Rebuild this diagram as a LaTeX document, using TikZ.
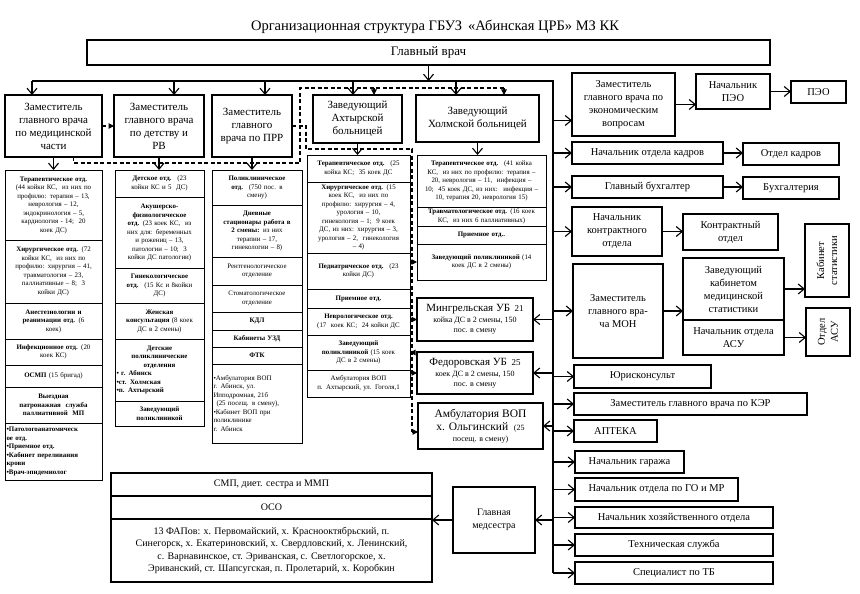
\documentclass[tikz,border=0pt]{standalone}
\usepackage{fontspec}
\setmainfont{Liberation Serif}
\usetikzlibrary{arrows.meta,positioning}
\tikzset{
  ttl/.style={font=\fontsize{14.5}{17}\selectfont, inner sep=0pt},
  hbox/.style={rectangle, draw, line width=1.1pt, outer sep=0pt, align=center,
               inner sep=1.5pt, font=\fontsize{11}{13}\selectfont},
  rbox/.style={hbox, font=\fontsize{10.5}{13}\selectfont},
  nbox/.style={hbox, font=\fontsize{10}{12.5}\selectfont},
  cell/.style={rectangle, draw, line width=1pt, outer sep=0pt, align=center,
               inner xsep=1.5pt, inner ysep=1pt, font=\fontsize{6.9}{8.5}\selectfont},
  c1/.style={cell, text width=94pt},
  c2/.style={cell, text width=86pt},
  c3/.style={cell, text width=87pt},
  ca/.style={cell, text width=100pt},
  ch/.style={cell, text width=126pt},
  bus/.style={line width=1.1pt},
  arr/.style={-{Straight Barb[length=6pt,width=10pt]}, line width=1.1pt},
  dashln/.style={line width=1.1pt, dash pattern=on 4pt off 2.5pt},
  dasharr/.style={dashln, -{Triangle[length=5.5pt,width=5.5pt]}},
}
\newcommand{\lft}[1]{#1\hspace{0pt plus 1filll}\mbox{}}

\begin{document}
\begin{tikzpicture}[x=1pt, y=-1pt]
  \useasboundingbox (0,0) rectangle (860,594);
  \node[ttl] (title) at (435,27) {Организационная структура ГБУЗ \,«Абинская ЦРБ» МЗ КК};
  \node[hbox, minimum width=683, minimum height=25, anchor=north west, font=\fontsize{13}{15}\selectfont] (glav) at (87,40) {Главный врач};

  % deputies and hospital heads
  \node[hbox, minimum width=97, minimum height=62, anchor=north west] (medz) at (5,95) {Заместитель\\главного врача\\по медицинской\\части};
  \node[hbox, minimum width=90, minimum height=62, anchor=north west] (detz) at (114,95) {Заместитель\\главного врача\\по детству и\\РВ};
  \node[hbox, minimum width=80, minimum height=62, anchor=north west] (prrz) at (212,95) {Заместитель\\главного\\врача по ПРР};
  \node[hbox, minimum width=89, minimum height=48, anchor=north west] (akhz) at (313,95) {Заведующий\\Ахтырской\\больницей};
  \node[hbox, minimum width=123, minimum height=47, anchor=north west] (holz) at (416,95) {Заведующий\\Холмской больницей};

  % medical part
  \node[c1, minimum height=70, anchor=north west] (m1) at (5,170) {\textbf{Терапевтическое отд.}\\(44 койки КС, \ из них по\\профилю: терапия – 13,\\неврология – 12,\\эндокринология – 5,\\кардиология - 14; \ 20\\коек ДС)};
  \node[c1, minimum height=63, below=0pt of m1] (m2) {\textbf{Хирургическое отд.} (72\\койки КС, \ из них по\\профилю: хирургия – 41,\\травматология – 23,\\паллиативные – 8; \ 3\\койки ДС)};
  \node[c1, minimum height=36, below=0pt of m2] (m3) {\textbf{Анестезиологии и\\реанимации отд.} (6\\коек)};
  \node[c1, minimum height=26, below=0pt of m3] (m4) {\textbf{Инфекционное отд.} (20\\коек КС)};
  \node[c1, minimum height=22, below=0pt of m4] (m5) {\textbf{ОСМП} (15 бригад)};
  \node[c1, minimum height=36, below=0pt of m5] (m6) {\textbf{Выездная\\патронажная \ служба\\паллиативной \ МП}};
  \node[c1, align=left, minimum height=57, below=0pt of m6] (m7) {\textbf{•Патологоанатомическ\\ое отд.\\•Приемное отд.\\•Кабинет переливания\\крови\\•Врач-эпидемиолог}};

  % childhood
  \node[c2, minimum height=27, anchor=north west] (d1) at (115,170) {\textbf{Детское отд.} \ (23\\койки КС и 5 \ ДС)};
  \node[c2, minimum height=71, below=0pt of d1] (d2) {\textbf{Акушерско-\\физиологическое\\отд.} (23 коек КС, \ из\\них для: беременных\\и рожениц – 13,\\патологии – 10; \ 3\\койки ДС патологии)};
  \node[c2, minimum height=35, below=0pt of d2] (d3) {\textbf{Гинекологическое\\отд.} \ (15 Кс и 8койки\\ДС)};
  \node[c2, minimum height=36, below=0pt of d3] (d4) {\textbf{Женская\\консультация} (8 коек\\ДС в 2 смены)};
  \node[c2, minimum height=62, below=0pt of d4] (d5) {\textbf{Детские\\поликлинические\\отделения}\\\lft{\textbf{• г. Абинск}}\\\lft{\textbf{•ст. Холмская}}\\\lft{\textbf{•п. Ахтырский}}};
  \node[c2, minimum height=25, below=0pt of d5] (d6) {\textbf{Заведующий\\поликлиникой}};

  % PRR
  \node[c3, minimum height=35, anchor=north west] (p1) at (212,170) {\textbf{Поликлиническое\\отд.} \ (750 пос. в\\смену)};
  \node[c3, minimum height=52, below=0pt of p1] (p2) {\textbf{Дневные\\стационары работа в\\2 смены:} из них\\терапии – 17,\\гинекологии – 8)};
  \node[c3, minimum height=28, below=0pt of p2] (p3) {Рентгенологическое\\отделение};
  \node[c3, minimum height=27, below=0pt of p3] (p4) {Стоматологическое\\отделение};
  \node[c3, minimum height=18, below=0pt of p4] (p5) {\textbf{КДЛ}};
  \node[c3, minimum height=17, below=0pt of p5] (p6) {\textbf{Кабинеты УЗД}};
  \node[c3, minimum height=17, below=0pt of p6] (p7) {\textbf{ФТК}};
  \node[c3, align=left, minimum height=79, below=0pt of p7] (p8) {•Амбулатория ВОП\\г. Абинск, ул.\\Ипподромная, 21б\\\hspace*{3pt}(25 посещ. в смену),\\•Кабинет ВОП при\\поликлинике\\г. Абинск};

  % Akhtyrskaya hospital
  \node[ca, minimum height=27, anchor=north west] (a1) at (307,155) {\textbf{Терапевтическое отд.} \ (25\\койка КС; \ 35 коек ДС};
  \node[ca, minimum height=71, below=0pt of a1] (a2) {\textbf{Хирургическое отд.} (15\\коек КС, \ из них по\\профилю: хирургия – 4,\\урология – 10,\\гинекология – 1; \ 9 коек\\ДС, из них: хирургия – 3,\\урология – 2, \ гинекология\\– 4)};
  \node[ca, minimum height=36, below=0pt of a2] (a3) {\textbf{Педиатрическое отд.} \ (23\\койки ДС)};
  \node[ca, minimum height=19, below=0pt of a3] (a4) {\textbf{Приемное отд.}};
  \node[ca, minimum height=27, below=0pt of a4] (a5) {\textbf{Неврологическое отд.}\\(17 \ коек КС; \ 24 койки ДС};
  \node[ca, minimum height=35, below=0pt of a5] (a6) {\textbf{Заведующий\\поликлиникой} (15 коек\\ДС в 2 смены)};
  \node[ca, minimum height=27, below=0pt of a6] (a7) {Амбулатория ВОП\\п. Ахтырский, ул. Гоголя,1};

  % Kholmskaya hospital
  \node[ch, minimum height=52, anchor=north west] (h1) at (417,155) {\textbf{Терапевтическое отд.} \ (41 койка\\КС, \ из них по профилю: терапия –\\20, неврология – 11, \ инфекция –\\10; \ 45 коек ДС, из них: \ инфекция –\\10, терапия 20, неврология 15)};
  \node[ch, minimum height=19, below=0pt of h1] (h2) {\textbf{Травматологическое отд.} (16 коек\\КС, \ из них 6 паллиативных)};
  \node[ch, minimum height=18, below=0pt of h2] (h3) {\textbf{Приемное отд..}};
  \node[ch, minimum height=36, below=0pt of h3] (h4) {\textbf{Заведующий поликлиникой} (14\\коек ДС в 2 смены)};

  \node[hbox, minimum width=116, minimum height=43, anchor=north west] (ming) at (417,298) {Мингрельская УБ \,{\small 21}\\[-2pt]{\footnotesize койка ДС в 2 смены, 150}\\[-3pt]{\footnotesize пос. в смену}};
  \node[hbox, minimum width=116, minimum height=42, anchor=north west] (fed) at (417,352) {Федоровская УБ \,{\small 25}\\[-2pt]{\footnotesize коек ДС в 2 смены, 150}\\[-3pt]{\footnotesize пос. в смену}};
  \node[hbox, minimum width=125, minimum height=46, anchor=north west, font=\fontsize{11.5}{13}\selectfont] (olg) at (418,403) {Амбулатория ВОП\\х. Ольгинский \ {\footnotesize (25}\\[-2pt]{\footnotesize посещ. в смену)}};

  % nursing
  \node[nbox, minimum width=321, minimum height=23, anchor=north west] (n1) at (111,473) {СМП, диет. сестра и ММП};
  \node[nbox, minimum width=321, minimum height=23, below=0pt of n1] (n2) {ОСО};
  \node[nbox, minimum width=321, minimum height=63, below=0pt of n2] (n3) {13 ФАПов: х. Первомайский, х. Краснооктябрьский, п.\\Синегорск, х. Екатериновский, х. Свердловский, х. Ленинский,\\с. Варнавинское, ст. Эриванская, с. Светлогорское, х.\\Эриванский, ст. Шапсугская, п. Пролетарий, х. Коробкин};
  \node[nbox, minimum width=82, minimum height=66, anchor=north west] (medsis) at (453,487) {Главная\\медсестра};

  % right column
  \node[rbox, minimum width=103, minimum height=63, anchor=north west] (econ) at (572,73) {Заместитель\\главного врача по\\экономическим\\вопросам};
  \node[rbox, minimum width=74, minimum height=35, anchor=north west] (peoh) at (696,74) {Начальник\\ПЭО};
  \node[rbox, minimum width=55, minimum height=22, anchor=north west] (peo) at (791,81) {ПЭО};
  \node[rbox, minimum width=151, minimum height=22, anchor=north west] (kadr) at (572,142) {Начальник отдела кадров};
  \node[rbox, minimum width=96, minimum height=22, anchor=north west] (otdk) at (743,143) {Отдел кадров};
  \node[rbox, minimum width=151, minimum height=22, anchor=north west] (buh) at (572,176) {Главный бухгалтер};
  \node[rbox, minimum width=96, minimum height=22, anchor=north west] (bukh) at (743,177) {Бухгалтерия};
  \node[rbox, minimum width=90, minimum height=49, anchor=north west] (contr) at (572,207) {Начальник\\контрактного\\отдела};
  \node[rbox, minimum width=95, minimum height=36, anchor=north west] (contro) at (683,214) {Контрактный\\отдел};
  \node[rbox, rotate=90, minimum width=73, minimum height=44] (statk) at (827,260.5) {Кабинет\\статистики};
  \node[rbox, minimum width=90, minimum height=94, anchor=north west] (mon) at (573,264) {Заместитель\\главного вра-\\ча МОН};
  \node[rbox, minimum width=101, minimum height=62, anchor=north west] (stath) at (683,258) {Заведующий\\кабинетом\\медицинской\\статистики};
  \node[rbox, minimum width=101, minimum height=35, below=0pt of stath] (asuh) {Начальник отдела\\АСУ};
  \node[rbox, rotate=90, minimum width=48, minimum height=44] (asuo) at (828,332) {Отдел\\АСУ};
  \node[rbox, minimum width=137, minimum height=23, anchor=north west] (jur) at (574,365) {Юрисконсульт};
  \node[rbox, minimum width=233, minimum height=22, anchor=north west] (ker) at (574,393) {Заместитель главного врача по КЭР};
  \node[rbox, minimum width=83, minimum height=22, anchor=north west] (apt) at (574,420) {АПТЕКА};
  \node[rbox, minimum width=109, minimum height=22, anchor=north west] (gar) at (575,451) {Начальник гаража};
  \node[rbox, minimum width=163, minimum height=23, anchor=north west] (gomr) at (575,478) {Начальник отдела по ГО и МР};
  \node[rbox, minimum width=198, minimum height=21, anchor=north west] (hoz) at (575,507) {Начальник хозяйственного отдела};
  \node[rbox, minimum width=198, minimum height=22, anchor=north west] (tech) at (575,534) {Техническая служба};
  \node[rbox, minimum width=198, minimum height=22, anchor=north west] (tb) at (575,562) {Специалист по ТБ};

  % main bus
  \coordinate (b1) at (32,81);
  \coordinate (b2) at (174,81);
  \coordinate (b3) at (265,81);
  \coordinate (b4) at (353,81);
  \coordinate (b5) at (456,81);
  \coordinate (vb) at (553,81);
  \draw[bus] (b1) -- (vb) -- (vb |- tb.west);
  \draw[arr] (glav.south) -- (glav.south |- vb);
  \foreach \src/\dst in {b1/medz,b2/detz,b3/prrz,b4/akhz,b5/holz}
    \draw[arr] (\src) -- (\src |- \dst.north);
  \foreach \src/\dst in {medz/m1,detz/d1,prrz/p1,akhz/a1,holz/h1}
    \draw[arr] (\src.south) -- (\src.south |- \dst.north);
  \draw[arr] ([yshift=-16pt]econ.west -| vb) -- ([yshift=-16pt]econ.west);
  \foreach \nd in {kadr,buh,contr,mon,jur,ker,apt,gar,gomr,hoz,tech,tb}
    \draw[arr] (vb |- \nd.west) -- (\nd.west);
  \foreach \nd in {ming,fed,olg,medsis}
    \draw[arr] (vb |- \nd.east) -- (\nd.east);
  \draw[arr] (econ.east) -- (econ.east -| peoh.west);
  \draw[arr] (peoh.east) -- (peoh.east -| peo.west);
  \draw[arr] (kadr.east) -- (kadr.east -| otdk.west);
  \draw[arr] (buh.east) -- (buh.east -| bukh.west);
  \draw[arr] (contr.east) -- (contr.east -| contro.west);
  \draw[arr] (mon.east) -- (mon.east -| stath.west);
  \draw[arr] (stath.east) -- (stath.east -| statk.north);
  \draw[arr] (asuh.east) -- (asuh.east -| asuo.north);
  \draw[arr] (medsis.west) -- (medsis.west -| n3.east);

  % dashed links
  \draw[dasharr] (medz.east) -- (detz.west);
  \coordinate (dl) at (300,163);
  \coordinate (dt) at (300,88);
  \coordinate (da) at (374,88);
  \coordinate (dh) at (504,88);
  \draw[dashln] ([xshift=20pt]medz.south) |- (dl) -- (dt) -- (dh);
  \draw[dasharr] (da) -- (da |- akhz.north);
  \draw[dasharr] (dh) -- (dh |- holz.north);
  \coordinate (pv) at (412,149);
  \coordinate (pb) at (412,432);
  \draw[dashln] (prrz.east) -- ++(14,0) |- (pv) -- (pb);
  \draw[dasharr] (pb) -- (pb -| olg.west);
  \foreach \nd in {h4,ming,fed}
    \draw[dasharr] (pv |- \nd.west) -- (\nd.west);
  \draw[dasharr] (pv |- a6.east) -- (a6.east);
\end{tikzpicture}
\end{document}
